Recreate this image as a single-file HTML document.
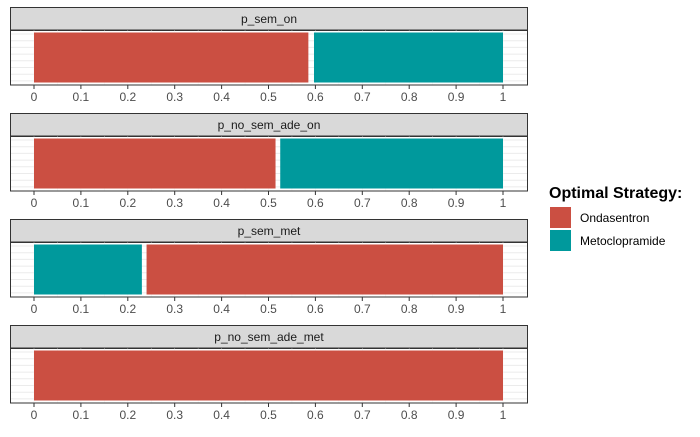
<!DOCTYPE html>
<html><head><meta charset="utf-8"><style>
body{margin:0;background:#fff;font-family:"Liberation Sans",Arial,sans-serif}
</style></head><body>
<svg id="c" width="700" height="432" xmlns="http://www.w3.org/2000/svg"></svg>
<script>
const panels = ["p_sem_on","p_no_sem_ade_on","p_sem_met","p_no_sem_ade_met"];
const segStart = [[0,0.597],[0,0.525],[0,0.24],[0]];
const segEnd = [[0.585,1],[0.515,1],[0.23,1],[1]];
const segStrategy = [["Ondasentron","Metoclopramide"],["Ondasentron","Metoclopramide"],["Metoclopramide","Ondasentron"],["Ondasentron"]];
const ticks = [0,0.1,0.2,0.3,0.4,0.5,0.6,0.7,0.8,0.9,1];
const strategies = ["Ondasentron","Metoclopramide"];
const colors = {"Ondasentron":"#CB4F42","Metoclopramide":"#00999C"};

const NS="http://www.w3.org/2000/svg", svg=document.getElementById('c');
function el(t,a,p){const e=document.createElementNS(NS,t);for(const k in a)e.setAttribute(k,a[k]);(p||svg).appendChild(e);return e;}
const L=10,R=528,x=v=>34+v*469;
const tops=[7,113,219,325];
panels.forEach((name,i)=>{
  const g=el('g',{});
  
  
  const st=tops[i], pt=st+23, pb=pt+55;
  const strip=el('rect',{x:L+0.5,y:st+0.5,width:R-L-1,height:23,fill:'#D9D9D9',stroke:'#333','stroke-width':1},g);
  
  
  const lab=el('text',{x:(L+R)/2,y:st+16,'text-anchor':'middle','font-size':12,fill:'#1a1a1a'},g);
  lab.textContent=name;
  
  
  // grid
  for(let y=pt+4;y<pb;y+=6.7) el('line',{x1:L,x2:R,y1:y,y2:y,stroke:'#EBEBEB','stroke-width':1},g);
  for(let v=-0.05;v<=1.05;v+=0.05) el('line',{x1:x(v),x2:x(v),y1:pt,y2:pb,stroke:'#F3F3F3','stroke-width':0.6},g);
  segStart[i].forEach((s,j)=>{
    const b=el('rect',{x:x(s),y:pt+2.5,width:x(segEnd[i][j])-x(s),height:pb-pt-5,fill:colors[segStrategy[i][j]]},g);
    
    
  });
  el('rect',{x:L+0.5,y:pt,width:R-L-1,height:pb-pt,fill:'none',stroke:'#333','stroke-width':1},g);
  ticks.forEach(t=>{
    el('line',{x1:x(t),x2:x(t),y1:pb,y2:pb+4,stroke:'#333'},g);
    const tx=el('text',{x:x(t),y:pb+16,'text-anchor':'middle','font-size':12,fill:'#4D4D4D'},g);
    tx.textContent=t;
    
    
  });
});
const lt=el('text',{x:549,y:198,'font-size':16,'font-weight':'bold',fill:'#000'});
lt.textContent='Optimal Strategy:';


strategies.forEach((s,i)=>{
  const k=el('rect',{x:550,y:207+i*23,width:21,height:21,fill:colors[s]});
  
  
  const t=el('text',{x:580,y:222+i*23,'font-size':12,fill:'#000'});
  t.textContent=s;
  
  
});
</script>
</body></html>
